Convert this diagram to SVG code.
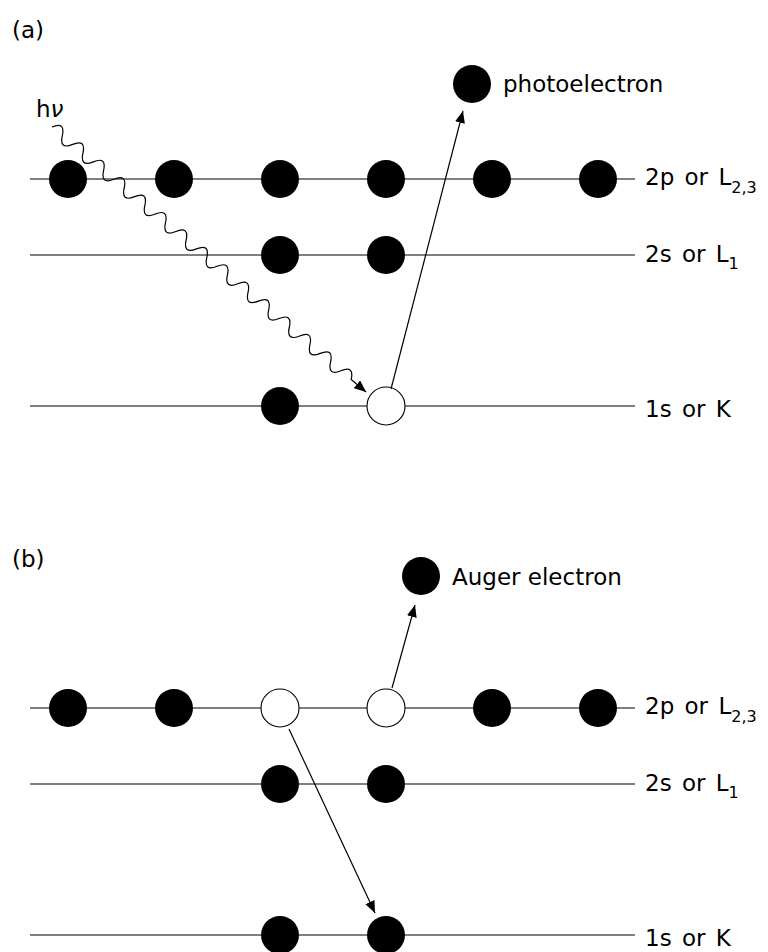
<svg xmlns="http://www.w3.org/2000/svg" width="768" height="952" viewBox="0 0 768 952">
<style>
.lvl{stroke:#000;stroke-width:1.2;fill:none}
.e{fill:#000}
.h{fill:#fff;stroke:#000;stroke-width:1.1}
.arr{stroke:#000;stroke-width:1.2;fill:none;marker-end:url(#ah)}
text{font-family:"DejaVu Sans","Liberation Sans",sans-serif;font-size:23px;fill:#000}
.sub{font-size:16px}
</style>
<defs>
<marker id="ah" viewBox="0 0 12 10" refX="12" refY="5" markerWidth="12" markerHeight="10" orient="auto" markerUnits="userSpaceOnUse">
<path d="M0,0 L12,5 L0,10 Z" fill="#000"/>
</marker>
</defs>
<rect width="768" height="952" fill="#fff"/>

<!-- Panel (a) -->
<g id="panel-a">
<text x="12" y="38">(a)</text>
<g id="levels-a">
<line class="lvl" x1="30" y1="179" x2="635" y2="179"/>
<line class="lvl" x1="30" y1="255" x2="635" y2="255"/>
<line class="lvl" x1="30" y1="406" x2="635" y2="406"/>
</g>
<g id="a-2p-1"><circle class="e" cx="68" cy="179" r="19"/></g>
<g id="a-2p-2"><circle class="e" cx="174" cy="179" r="19"/></g>
<g id="a-2p-3"><circle class="e" cx="280" cy="179" r="19"/></g>
<g id="a-2p-4"><circle class="e" cx="386" cy="179" r="19"/></g>
<g id="a-2p-5"><circle class="e" cx="492" cy="179" r="19"/></g>
<g id="a-2p-6"><circle class="e" cx="598" cy="179" r="19"/></g>
<g id="a-2s-1"><circle class="e" cx="280" cy="255" r="19"/></g>
<g id="a-2s-2"><circle class="e" cx="386" cy="255" r="19"/></g>
<g id="a-1s-1"><circle class="e" cx="280" cy="406" r="19"/></g>
<g id="a-1s-hole"><circle class="h" cx="386" cy="406" r="19"/></g>
<g id="a-photoelectron"><circle class="e" cx="472" cy="84" r="19"/><text x="503" y="92">photoelectron</text></g>
<g id="a-label-2p"><text x="645" y="185" word-spacing="3">2p or L<tspan class="sub" dy="8">2,3</tspan></text></g>
<g id="a-label-2s"><text x="645" y="262" word-spacing="3">2s or L<tspan class="sub" dy="7">1</tspan></text></g>
<g id="a-label-1s"><text x="645" y="417" word-spacing="3">1s or K</text></g>
<g id="a-hv"><text x="36" y="117" font-size="21">h<tspan font-style="italic">ν</tspan></text></g>
</g>

<!-- Panel (b) -->
<g id="panel-b">
<text x="12" y="567">(b)</text>
<g id="levels-b">
<line class="lvl" x1="30" y1="708" x2="635" y2="708"/>
<line class="lvl" x1="30" y1="784" x2="635" y2="784"/>
<line class="lvl" x1="30" y1="935" x2="635" y2="935"/>
</g>
<g id="b-2p-1"><circle class="e" cx="68" cy="708" r="19"/></g>
<g id="b-2p-2"><circle class="e" cx="174" cy="708" r="19"/></g>
<g id="b-2p-hole-1"><circle class="h" cx="280" cy="708" r="19"/></g>
<g id="b-2p-hole-2"><circle class="h" cx="386" cy="708" r="19"/></g>
<g id="b-2p-5"><circle class="e" cx="492" cy="708" r="19"/></g>
<g id="b-2p-6"><circle class="e" cx="598" cy="708" r="19"/></g>
<g id="b-2s-1"><circle class="e" cx="280" cy="784" r="19"/></g>
<g id="b-2s-2"><circle class="e" cx="386" cy="784" r="19"/></g>
<g id="b-1s-1"><circle class="e" cx="280" cy="935" r="19"/></g>
<g id="b-1s-2"><circle class="e" cx="386" cy="935" r="19"/></g>
<g id="b-auger"><circle class="e" cx="421" cy="576" r="19"/><text x="452" y="585">Auger electron</text></g>
<g id="b-label-2p"><text x="645" y="714" word-spacing="3">2p or L<tspan class="sub" dy="8">2,3</tspan></text></g>
<g id="b-label-2s"><text x="645" y="791" word-spacing="3">2s or L<tspan class="sub" dy="7">1</tspan></text></g>
<g id="b-label-1s"><text x="645" y="946" word-spacing="3">1s or K</text></g>
</g>

<g id="connectors">
<g transform="translate(52,127) rotate(40.16)">
<path class="arr" d="M0,0 Q6.75,-13 13.5,0 T27,0 T40.5,0 T54,0 T67.5,0 T81,0 T94.5,0 T108,0 T121.5,0 T135,0 T148.5,0 T162,0 T175.5,0 T189,0 T202.5,0 T216,0 T229.5,0 T243,0 T256.5,0 T270,0 T283.5,0 T297,0 T310.5,0 T324,0 T337.5,0 T351,0 T364.5,0 T378,0 T391.5,0 L411,0"/>
</g>
<line class="arr" x1="391" y1="389" x2="463" y2="111"/>
<line class="arr" x1="392" y1="688" x2="415" y2="605"/>
<line class="arr" x1="289" y1="729" x2="375" y2="913"/>
</g>
</svg>
